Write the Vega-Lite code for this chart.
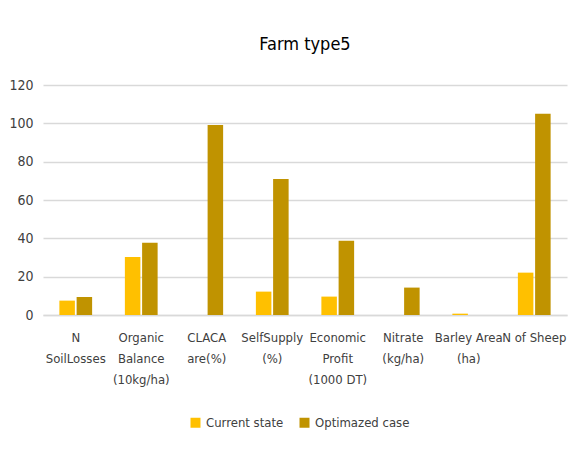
{
  "$schema": "https://vega.github.io/schema/vega-lite/v6.json",
  "width": 524,
  "height": 230,
  "autosize": "none",
  "padding": {"left": 43, "top": 85, "right": 5, "bottom": 134},
  "background": "white",
  "title": {"text": "Farm type5", "fontSize": 18, "font": "DejaVu Sans Condensed, sans-serif", "fontWeight": "normal", "color": "#000000", "offset": 24, "anchor": "middle"},
  "config": {
    "view": {"stroke": null},
    "font": "DejaVu Sans Condensed, sans-serif"
  },
  "data": {
    "values": [
      {"cat": "N|SoilLosses", "series": "Current state", "value": 7.5},
      {"cat": "N|SoilLosses", "series": "Optimazed case", "value": 9.4},
      {"cat": "Organic|Balance|(10kg/ha)", "series": "Current state", "value": 30.2},
      {"cat": "Organic|Balance|(10kg/ha)", "series": "Optimazed case", "value": 37.7},
      {"cat": "CLACA|are(%)", "series": "Current state", "value": 0},
      {"cat": "CLACA|are(%)", "series": "Optimazed case", "value": 99.1},
      {"cat": "SelfSupply|(%)", "series": "Current state", "value": 12.2},
      {"cat": "SelfSupply|(%)", "series": "Optimazed case", "value": 71.0},
      {"cat": "Economic|Profit|(1000 DT)", "series": "Current state", "value": 9.6},
      {"cat": "Economic|Profit|(1000 DT)", "series": "Optimazed case", "value": 38.7},
      {"cat": "Nitrate|(kg/ha)", "series": "Current state", "value": 0},
      {"cat": "Nitrate|(kg/ha)", "series": "Optimazed case", "value": 14.3},
      {"cat": "Barley Area|(ha)", "series": "Current state", "value": 0.7},
      {"cat": "Barley Area|(ha)", "series": "Optimazed case", "value": 0},
      {"cat": "N of Sheep", "series": "Current state", "value": 22.1},
      {"cat": "N of Sheep", "series": "Optimazed case", "value": 105}
    ]
  },
  "mark": {"type": "bar"},
  "encoding": {
    "x": {
      "field": "cat", "type": "nominal", "sort": null,
      "scale": {"paddingInner": 0.5, "paddingOuter": 0.25},
      "axis": {
        "title": null, "labelAngle": 0, "ticks": false, "domain": true, "domainColor": "#D9D9D9", "domainWidth": 1.5,
        "labelExpr": "split(datum.value, '|')", "labelFontSize": 13, "labelColor": "#404040",
        "labelPadding": 16, "labelLineHeight": 21, "labelBaseline": "top", "labelLimit": 200
      }
    },
    "xOffset": {"field": "series", "type": "nominal", "scale": {"paddingInner": 0.1}},
    "y": {
      "field": "value", "type": "quantitative",
      "scale": {"domain": [0, 120]},
      "axis": {
        "title": null, "values": [0, 20, 40, 60, 80, 100, 120], "domain": false, "ticks": false,
        "gridColor": "#D9D9D9", "gridWidth": 1.5, "labelFontSize": 14, "labelColor": "#404040", "labelPadding": 10
      }
    },
    "color": {
      "field": "series", "type": "nominal",
      "scale": {"domain": ["Current state", "Optimazed case"], "range": ["#FFC000", "#C09300"]},
      "legend": {
        "title": null, "orient": "none", "legendX": 146, "legendY": 331, "direction": "horizontal", "symbolType": "square",
        "symbolSize": 100, "symbolStrokeWidth": 0, "labelFontSize": 13, "labelColor": "#404040", "columnPadding": 14
      }
    }
  }
}
